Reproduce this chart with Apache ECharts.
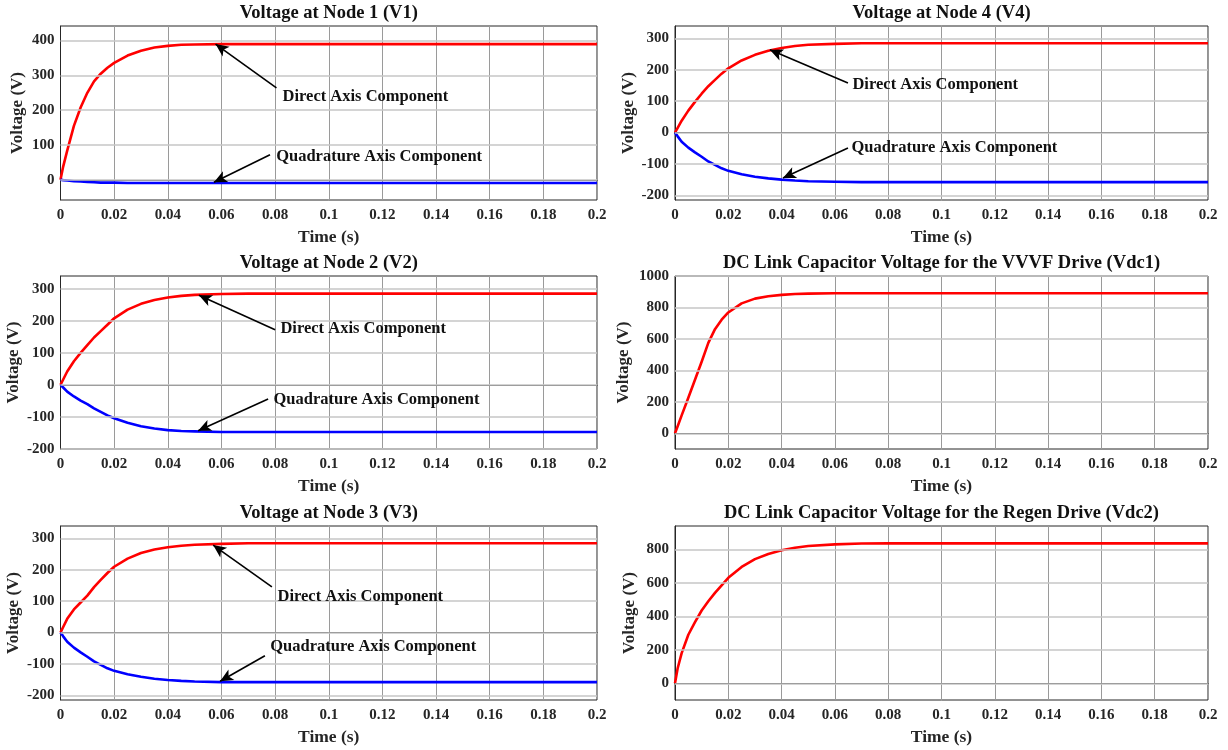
<!DOCTYPE html>
<html>
<head>
<meta charset="utf-8">
<script src="https://cdn.jsdelivr.net/npm/echarts@6/dist/echarts.min.js"></script>
<style>
  html, body { margin: 0; padding: 0; background: #ffffff; }
  #chart { width: 1228px; height: 750px; }
</style>
</head>
<body>
<div id="chart"></div>
<script>
// Sample instants of the start-up transient (s)
const timeS = [0, 0.001, 0.0025, 0.005, 0.0075, 0.01, 0.0125, 0.015, 0.0175, 0.02, 0.025,
               0.03, 0.035, 0.04, 0.045, 0.05, 0.06, 0.07, 0.08, 0.1, 0.15, 0.2];

// Node voltages, d and q components (V)
const v1Direct = [0, 38, 84, 155, 208, 250, 283, 305, 322, 336, 357, 371, 380, 385, 388, 389, 390, 390, 390, 390, 390, 390];
const v1Quad   = [0, -1, -2, -4, -5, -6, -7, -8, -8, -8, -9, -9, -9, -9, -9, -9, -9, -9, -9, -9, -9, -9];
const v2Direct = [0, 17, 42, 74, 100, 124, 148, 168, 188, 208, 235, 253, 265, 273, 278, 281, 284, 285, 285, 285, 285, 285];
const v2Quad   = [0, -8, -21, -36, -49, -60, -73, -84, -95, -104, -118, -129, -136, -141, -144, -145, -147, -147, -147, -147, -147, -147];
const v3Direct = [0, 18, 44, 74, 96, 118, 145, 168, 190, 210, 236, 254, 265, 272, 277, 280, 283, 285, 285, 285, 285, 285];
const v3Quad   = [0, -12, -29, -48, -63, -77, -92, -103, -114, -122, -133, -141, -147, -151, -154, -156, -158, -158, -158, -158, -158, -158];
const v4Direct = [0, 15, 38, 70, 98, 124, 148, 168, 188, 205, 230, 248, 261, 270, 276, 280, 283, 285, 285, 285, 285, 285];
const v4Quad   = [0, -12, -29, -48, -63, -77, -92, -103, -114, -122, -133, -141, -146, -150, -153, -155, -157, -158, -158, -158, -158, -158];

// DC link capacitor voltages (V)
const vdc1 = [0, 45, 114, 226, 340, 455, 575, 662, 722, 768, 826, 856, 871, 880, 886, 888, 890, 890, 890, 890, 890, 890];
const vdc2 = [0, 90, 180, 290, 365, 435, 490, 540, 585, 630, 695, 742, 773, 795, 810, 820, 830, 835, 836, 836, 836, 836];

// Axis tick values
const timeTicks = [0, 0.02, 0.04, 0.06, 0.08, 0.1, 0.12, 0.14, 0.16, 0.18, 0.2];
const yTicksV1 = [0, 100, 200, 300, 400];
const yTicksNode = [-200, -100, 0, 100, 200, 300];
const yTicksVdc1 = [0, 200, 400, 600, 800, 1000];
const yTicksVdc2 = [0, 200, 400, 600, 800];

const RED = '#ff0000';
const BLUE = '#0000ff';
const INK = '#262626';
const FONT = '"Liberation Serif", "Times New Roman", serif';

const COLS = [{ left: 60.5, right: 597 }, { left: 675, right: 1208 }];
const ROWS = [{ top: 26, bottom: 200 }, { top: 276, bottom: 449 }, { top: 526, bottom: 700 }];

const DIRECT = 'Direct Axis Component';
const QUAD = 'Quadrature Axis Component';

const panels = [
  { title: 'Voltage at Node 1 (V1)', col: 0, row: 0, yMin: -58, yMax: 442, yTicks: yTicksV1, nameGap: 34,
    lines: [{ data: v1Direct, color: RED }, { data: v1Quad, color: BLUE }],
    notes: [
      { text: DIRECT, from: [0.0805, 264], to: [0.0578, 390], at: [0.0826, 238] },
      { text: QUAD, from: [0.0781, 72], to: [0.0572, -7], at: [0.0802, 66] }
    ] },
  { title: 'Voltage at Node 4 (V4)', col: 1, row: 0, yMin: -215, yMax: 340, yTicks: yTicksNode, nameGap: 37,
    lines: [{ data: v4Direct, color: RED }, { data: v4Quad, color: BLUE }],
    notes: [
      { text: DIRECT, from: [0.0649, 158], to: [0.0356, 264], at: [0.0664, 152] },
      { text: QUAD, from: [0.0649, -49], to: [0.0405, -145], at: [0.0660, -49] }
    ] },
  { title: 'Voltage at Node 2 (V2)', col: 0, row: 1, yMin: -200, yMax: 340, yTicks: yTicksNode, nameGap: 38,
    lines: [{ data: v2Direct, color: RED }, { data: v2Quad, color: BLUE }],
    notes: [
      { text: DIRECT, from: [0.0800, 172], to: [0.0516, 280], at: [0.0818, 175] },
      { text: QUAD, from: [0.0774, -44], to: [0.0513, -143], at: [0.0792, -47] }
    ] },
  { title: 'DC Link Capacitor Voltage for the VVVF Drive (Vdc1)', col: 1, row: 1, yMin: -100, yMax: 1000, yTicks: yTicksVdc1, nameGap: 43,
    lines: [{ data: vdc1, color: RED }], notes: [] },
  { title: 'Voltage at Node 3 (V3)', col: 0, row: 2, yMin: -215, yMax: 340, yTicks: yTicksNode, nameGap: 38,
    lines: [{ data: v3Direct, color: RED }, { data: v3Quad, color: BLUE }],
    notes: [
      { text: DIRECT, from: [0.0788, 146], to: [0.0569, 279], at: [0.0807, 114] },
      { text: QUAD, from: [0.0762, -74], to: [0.0595, -155], at: [0.0780, -46] }
    ] },
  { title: 'DC Link Capacitor Voltage for the Regen Drive (Vdc2)', col: 1, row: 2, yMin: -100, yMax: 940, yTicks: yTicksVdc2, nameGap: 37,
    lines: [{ data: vdc2, color: RED }], notes: [] }
];

const boldText = (size, color) => ({ fontFamily: FONT, fontWeight: 'bold', fontSize: size, color: color || INK });

const option = {
  animation: false,
  backgroundColor: '#ffffff',
  title: [], grid: [], xAxis: [], yAxis: [], series: []
};

panels.forEach((p, i) => {
  const c = COLS[p.col];
  const r = ROWS[p.row];
  option.title.push({
    text: p.title,
    left: (c.left + c.right) / 2,
    top: r.top - 22.5,
    textAlign: 'center',
    padding: 0,
    textStyle: boldText(18.5, '#111')
  });
  option.grid.push({
    left: c.left, top: r.top, width: c.right - c.left, height: r.bottom - r.top,
    containLabel: false, show: true, borderColor: INK, borderWidth: 1, backgroundColor: '#ffffff'
  });
  option.xAxis.push({
    type: 'value', gridIndex: i, min: 0, max: 0.2, interval: 0.02,
    axisLine: { show: true, lineStyle: { color: INK, width: 1 } },
    axisTick: { show: false },
    splitLine: { show: true, lineStyle: { color: '#9a9a9a', width: 1 } },
    axisLabel: Object.assign({ margin: 8, formatter: v => String(+v.toFixed(2)) }, boldText(15)),
    name: 'Time (s)', nameLocation: 'middle', nameGap: 28,
    nameTextStyle: boldText(17.5)
  });
  option.yAxis.push({
    type: 'value', gridIndex: i, min: p.yMin, max: p.yMax,
    axisLine: { show: true, lineStyle: { color: INK, width: 1 } },
    axisTick: { show: false },
    splitLine: { show: false },
    axisLabel: Object.assign({ margin: 6, customValues: p.yTicks, formatter: v => String(v) }, boldText(15)),
    name: 'Voltage (V)', nameLocation: 'middle', nameGap: p.nameGap,
    nameTextStyle: boldText(17)
  });
  // horizontal grid lines at the tick values
  option.series.push({
    type: 'line', xAxisIndex: i, yAxisIndex: i, z: 1, silent: true,
    data: [[0, p.yTicks[0]]], showSymbol: false, lineStyle: { opacity: 0 },
    markLine: {
      silent: true, symbol: 'none', label: { show: false },
      lineStyle: { color: '#c6c6c6', width: 1.5, type: 'solid' },
      data: p.yTicks.map(v => ({ yAxis: v }))
    }
  });
  p.lines.forEach(l => {
    option.series.push({
      type: 'line', xAxisIndex: i, yAxisIndex: i, z: 3,
      data: timeS.map((t, k) => [t, l.data[k]]),
      showSymbol: false, smooth: false,
      lineStyle: { color: l.color, width: 2.6, join: 'round' }, itemStyle: { color: l.color }
    });
  });
  if (p.notes.length) {
    option.series.push({
      type: 'line', xAxisIndex: i, yAxisIndex: i, z: 5, silent: true,
      data: [[0, 0]], showSymbol: false, lineStyle: { opacity: 0 },
      markLine: {
        silent: true, symbol: ['none', 'arrow'], symbolSize: [9, 13],
        label: { show: false },
        lineStyle: { color: '#000000', width: 1.6, type: 'solid' },
        data: p.notes.map(n => [{ coord: n.from }, { coord: n.to }])
      },
      markPoint: {
        silent: true, symbol: 'circle', symbolSize: 1,
        itemStyle: { color: 'rgba(0,0,0,0)' },
        label: Object.assign({ show: true, position: 'right', distance: 0, formatter: '{b}' }, boldText(16.5, '#111')),
        data: p.notes.map(n => ({ name: n.text, coord: n.at }))
      }
    });
  }
});

const chart = echarts.init(document.getElementById('chart'), null, { renderer: 'canvas' });
chart.setOption(option);
</script>
</body>
</html>
